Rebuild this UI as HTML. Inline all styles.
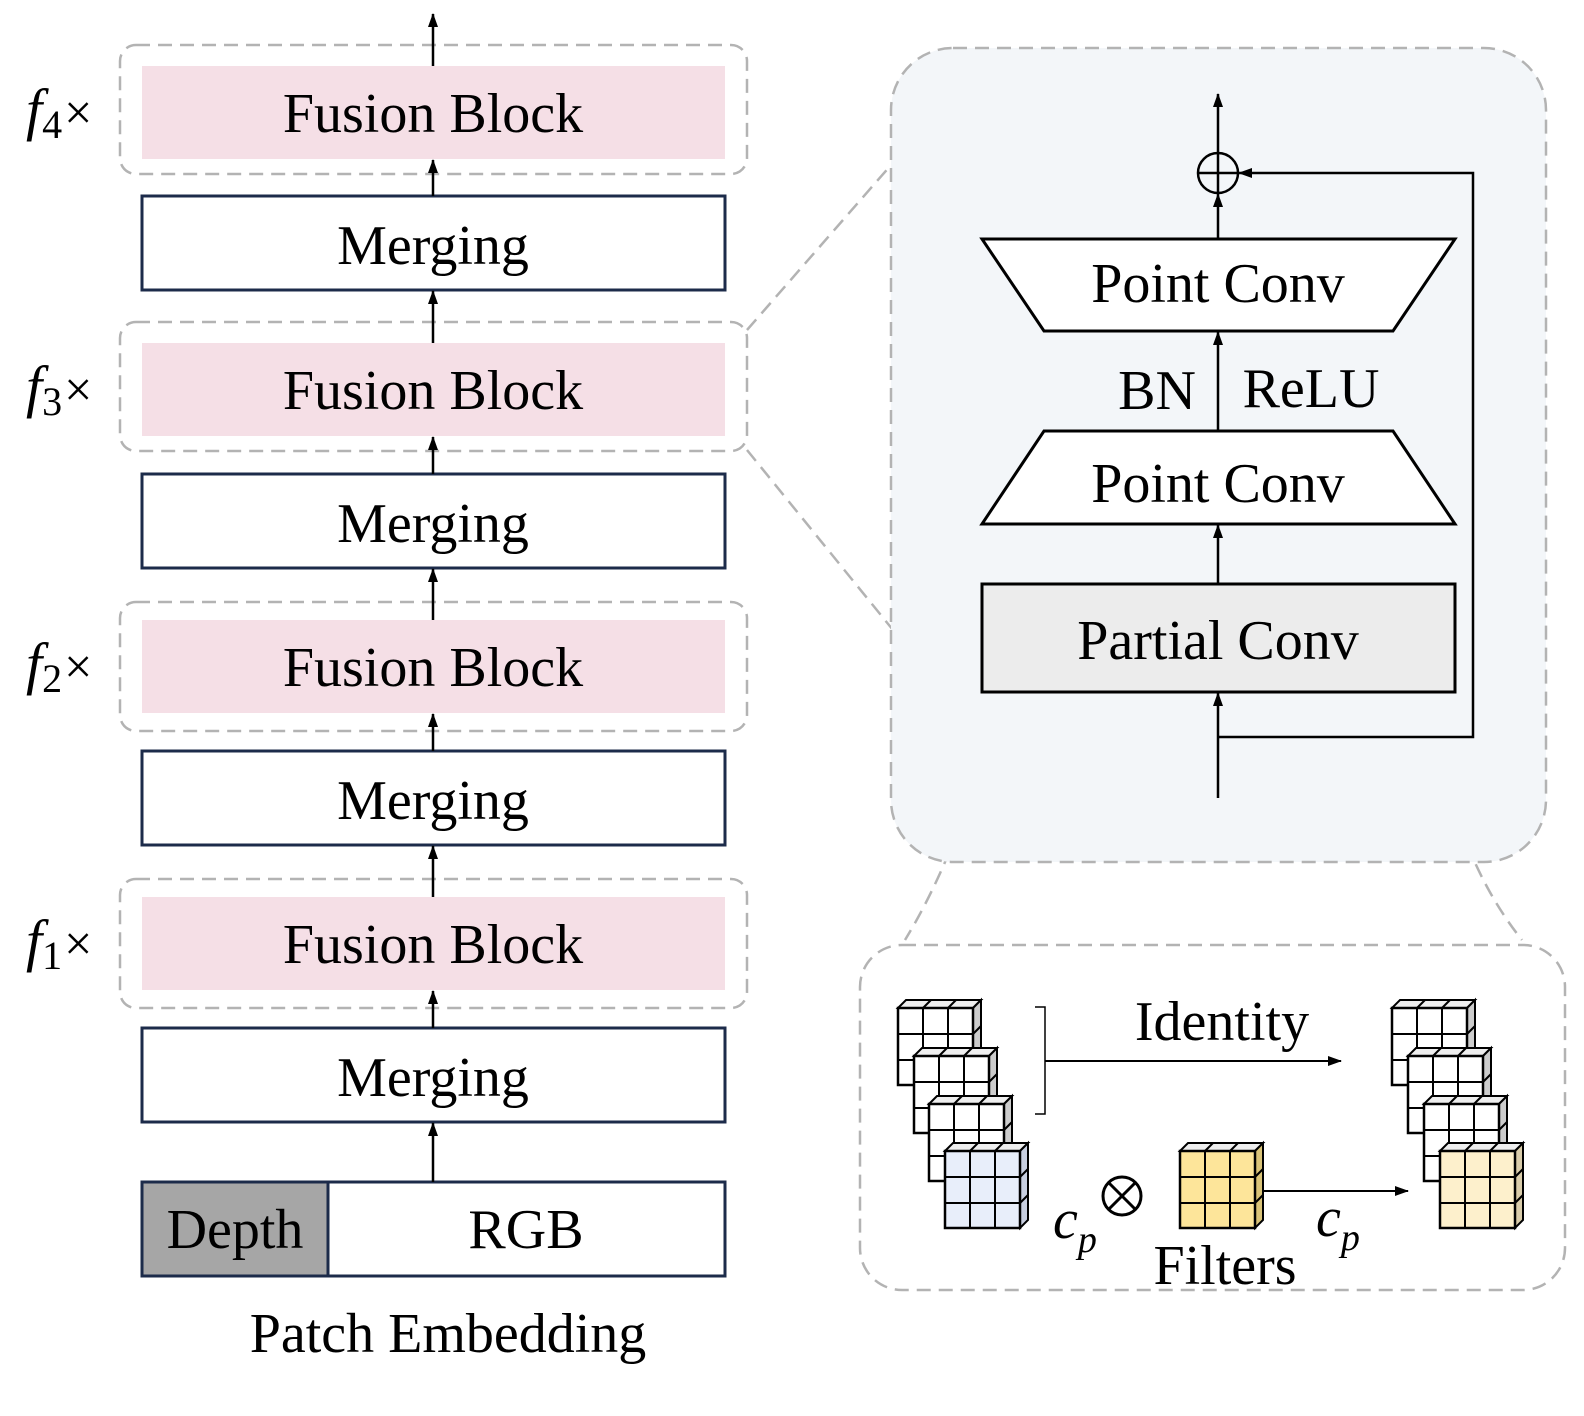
<!DOCTYPE html>
<html><head><meta charset="utf-8"><style>
html,body{margin:0;padding:0;background:#fff;}
svg{display:block;}
text{font-family:"Liberation Serif",serif;fill:#000;}
.c{text-anchor:middle;}
</style></head><body>
<svg width="1584" height="1416" viewBox="0 0 1584 1416" xmlns="http://www.w3.org/2000/svg">
<defs>
<marker id="ah" markerWidth="14" markerHeight="12" refX="13" refY="6" orient="auto" markerUnits="userSpaceOnUse">
<path d="M0,1 L14,6 L0,11 z" fill="#000"/></marker>
<g id="cube">
<polygon points="0,8 8,0 83,0 75,8" style="fill:#eeeeee" stroke="#000" stroke-width="2"/>
<line x1="25" y1="8" x2="33" y2="0" stroke="#000" stroke-width="2"/>
<line x1="50" y1="8" x2="58" y2="0" stroke="#000" stroke-width="2"/>
<polygon points="75,8 83,0 83,77 75,85" style="fill:var(--s,#cccccc)" stroke="#000" stroke-width="2"/>
<line x1="75" y1="34" x2="83" y2="26" stroke="#000" stroke-width="2"/>
<line x1="75" y1="60" x2="83" y2="52" stroke="#000" stroke-width="2"/>
<rect x="0" y="8" width="75" height="77" style="fill:var(--f,#ffffff)" stroke="#000" stroke-width="2.5"/>
<line x1="25" y1="8" x2="25" y2="85" stroke="#000" stroke-width="2"/>
<line x1="50" y1="8" x2="50" y2="85" stroke="#000" stroke-width="2"/>
<line x1="0" y1="34" x2="75" y2="34" stroke="#000" stroke-width="2"/>
<line x1="0" y1="60" x2="75" y2="60" stroke="#000" stroke-width="2"/>
</g>
</defs>

<g fill="none" stroke="#b3b3b3" stroke-width="2.5" stroke-dasharray="14,8">
<rect x="120" y="45" width="627" height="129" rx="16"/>
<rect x="120" y="322" width="627" height="129" rx="16"/>
<rect x="120" y="602" width="627" height="129" rx="16"/>
<rect x="120" y="879" width="627" height="129" rx="16"/>
</g>
<g fill="#f5dfe6">
<rect x="142" y="66" width="583" height="93"/>
<rect x="142" y="343" width="583" height="93"/>
<rect x="142" y="620" width="583" height="93"/>
<rect x="142" y="897" width="583" height="93"/>
</g>
<g font-size="56">
<text class="c" x="433" y="132">Fusion Block</text>
<text class="c" x="433" y="409">Fusion Block</text>
<text class="c" x="433" y="686">Fusion Block</text>
<text class="c" x="433" y="963">Fusion Block</text>
</g>
<g fill="#fff" stroke="#1c2b4a" stroke-width="3">
<rect x="142" y="196" width="583" height="94"/>
<rect x="142" y="474" width="583" height="94"/>
<rect x="142" y="751" width="583" height="94"/>
<rect x="142" y="1028" width="583" height="94"/>
<rect x="142" y="1182" width="583" height="94"/>
<rect x="142" y="1182" width="186" height="94" fill="#a6a6a6"/>
</g>
<g font-size="56">
<text class="c" x="433" y="264">Merging</text>
<text class="c" x="433" y="542">Merging</text>
<text class="c" x="433" y="819">Merging</text>
<text class="c" x="433" y="1096">Merging</text>
<text class="c" x="235" y="1248">Depth</text>
<text class="c" x="526" y="1248">RGB</text>
<text class="c" x="448" y="1352">Patch Embedding</text>
</g>
<g font-size="58">
<text x="26" y="129"><tspan font-style="italic">f</tspan><tspan font-size="40" dy="9">4</tspan><tspan dy="-9" font-size="50" dx="2">×</tspan></text>
<text x="26" y="406"><tspan font-style="italic">f</tspan><tspan font-size="40" dy="9">3</tspan><tspan dy="-9" font-size="50" dx="2">×</tspan></text>
<text x="26" y="683"><tspan font-style="italic">f</tspan><tspan font-size="40" dy="9">2</tspan><tspan dy="-9" font-size="50" dx="2">×</tspan></text>
<text x="26" y="960"><tspan font-style="italic">f</tspan><tspan font-size="40" dy="9">1</tspan><tspan dy="-9" font-size="50" dx="2">×</tspan></text>
</g>
<g stroke="#000" stroke-width="2.5" marker-end="url(#ah)">
<line x1="433" y1="66" x2="433" y2="14"/>
<line x1="433" y1="196" x2="433" y2="160"/>
<line x1="433" y1="343" x2="433" y2="291"/>
<line x1="433" y1="474" x2="433" y2="437"/>
<line x1="433" y1="620" x2="433" y2="569"/>
<line x1="433" y1="751" x2="433" y2="714"/>
<line x1="433" y1="897" x2="433" y2="846"/>
<line x1="433" y1="1028" x2="433" y2="991"/>
<line x1="433" y1="1182" x2="433" y2="1123"/>
</g>

<g fill="none" stroke="#b3b3b3" stroke-width="2.5" stroke-dasharray="14,8">
<line x1="747" y1="330" x2="891" y2="165"/>
<line x1="747" y1="450" x2="893" y2="630"/>
<path d="M998,705 Q960,850 905,940"/>
<path d="M1430,695 Q1450,850 1522,940"/>
</g>

<rect x="891" y="48" width="655" height="814" rx="62" fill="#f3f6f9" stroke="#b3b3b3" stroke-width="2.5" stroke-dasharray="14,8"/>
<polygon points="982,239 1455,239 1393,331 1044,331" fill="#fff" stroke="#000" stroke-width="3"/>
<polygon points="1044,431 1393,431 1455,524 982,524" fill="#fff" stroke="#000" stroke-width="3"/>
<rect x="982" y="584" width="473" height="108" fill="#ececec" stroke="#000" stroke-width="3"/>
<g font-size="56">
<text class="c" x="1218" y="302">Point Conv</text>
<text class="c" x="1218" y="502">Point Conv</text>
<text class="c" x="1218" y="659">Partial Conv</text>
<text class="c" x="1157" y="409">BN</text>
<text class="c" x="1311" y="407">ReLU</text>
</g>
<g stroke="#000" stroke-width="2.5" fill="none">
<line x1="1218" y1="798" x2="1218" y2="693" marker-end="url(#ah)"/>
<line x1="1218" y1="584" x2="1218" y2="525" marker-end="url(#ah)"/>
<line x1="1218" y1="431" x2="1218" y2="332" marker-end="url(#ah)"/>
<line x1="1218" y1="239" x2="1218" y2="194" marker-end="url(#ah)"/>
<line x1="1218" y1="153" x2="1218" y2="94" marker-end="url(#ah)"/>
<polyline points="1218,737 1473,737 1473,173 1239,173" marker-end="url(#ah)"/>
<circle cx="1218" cy="173" r="20"/>
<line x1="1198" y1="173" x2="1238" y2="173"/>
<line x1="1218" y1="153" x2="1218" y2="193"/>
</g>

<rect x="860" y="945" width="705" height="345" rx="42" fill="#fff" stroke="#b3b3b3" stroke-width="2.5" stroke-dasharray="14,8"/>
<use href="#cube" x="898" y="1000"/>
<use href="#cube" x="914" y="1048"/>
<use href="#cube" x="929" y="1096"/>
<use href="#cube" x="945" y="1143" style="--f:#e8eefa;--s:#c8cfe0"/>
<use href="#cube" x="1180" y="1143" style="--f:#fde59a;--s:#d9c378"/>
<use href="#cube" x="1392" y="1000"/>
<use href="#cube" x="1408" y="1048"/>
<use href="#cube" x="1424" y="1096"/>
<use href="#cube" x="1440" y="1143" style="--f:#fdf0cc;--s:#d9ccaa"/>
<g stroke="#000" fill="none">
<polyline points="1035,1007 1045,1007 1045,1114 1035,1114" stroke-width="1.5"/>
<line x1="1045" y1="1061" x2="1341" y2="1061" stroke-width="2" marker-end="url(#ah)"/>
<line x1="1264" y1="1191" x2="1408" y2="1191" stroke-width="2" marker-end="url(#ah)"/>
<circle cx="1122" cy="1196" r="19" stroke-width="3"/>
<line x1="1109" y1="1183" x2="1135" y2="1209" stroke-width="3"/>
<line x1="1135" y1="1183" x2="1109" y2="1209" stroke-width="3"/>
</g>
<g font-size="56">
<text class="c" x="1222" y="1040">Identity</text>
<text class="c" x="1225" y="1284">Filters</text>
<text x="1053" y="1238" font-style="italic">c<tspan font-size="38" dy="14">p</tspan></text>
<text x="1316" y="1236" font-style="italic">c<tspan font-size="38" dy="14">p</tspan></text>
</g>
</svg>
</body></html>
